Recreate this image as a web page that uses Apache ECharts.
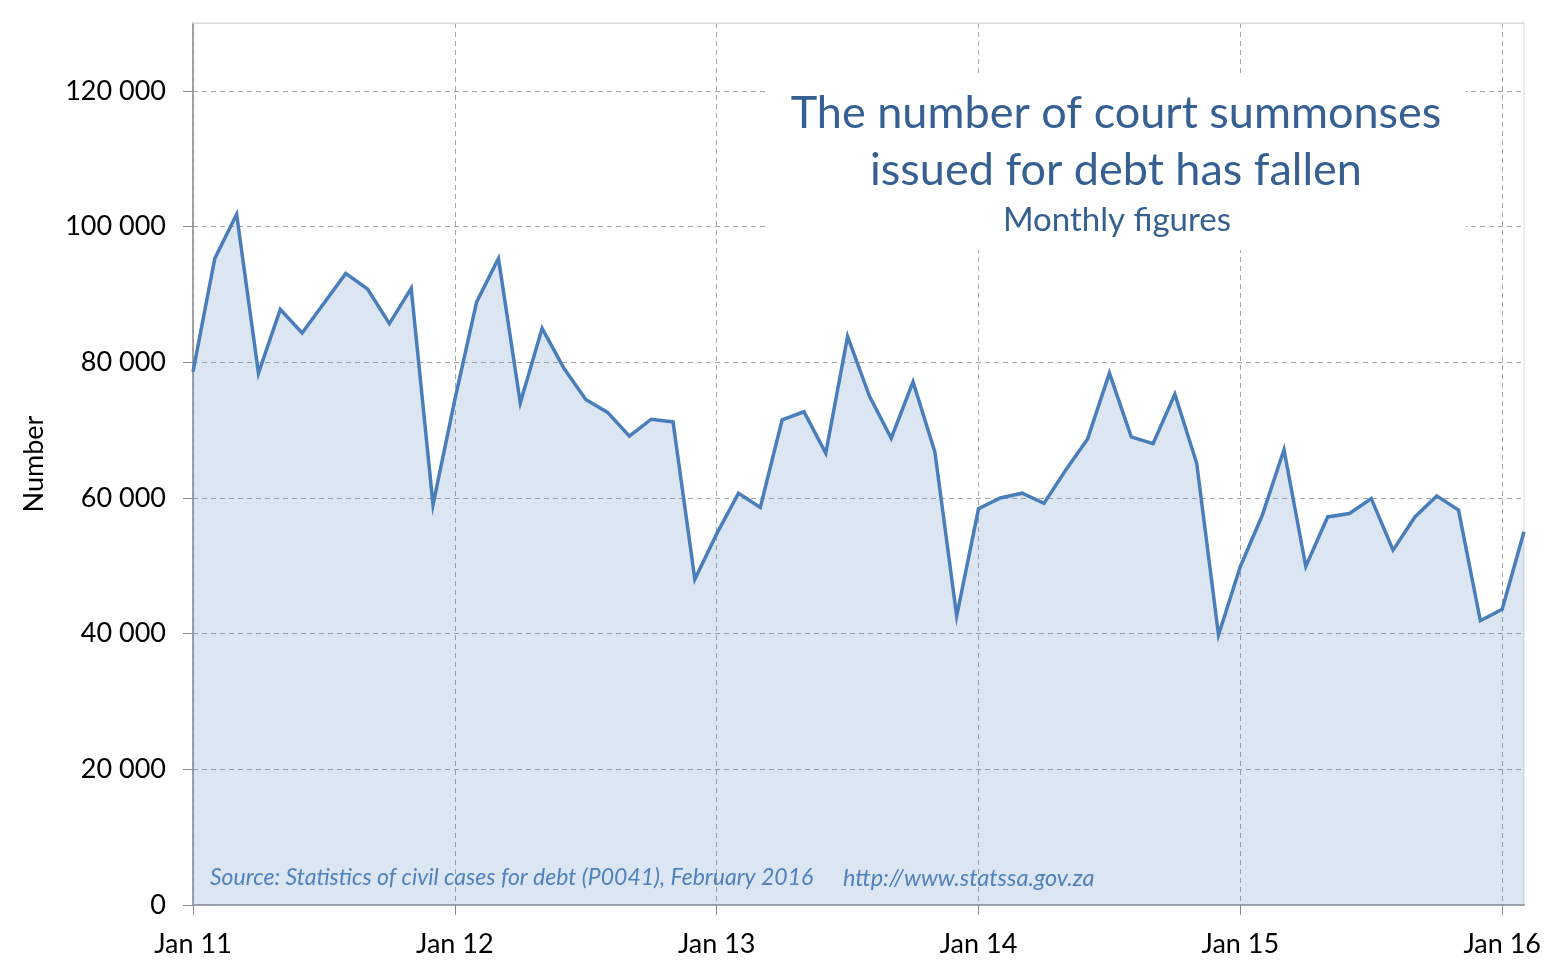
<!DOCTYPE html>
<html><head><meta charset="utf-8">
<script src="https://cdn.jsdelivr.net/npm/echarts@6/dist/echarts.min.js"></script>
<style>html,body{margin:0;padding:0;background:#fff}#c{width:1562px;height:974px}</style>
</head><body><div id="c"></div>
<script>
const months = [
 'Jan 11','Feb 11','Mar 11','Apr 11','May 11','Jun 11','Jul 11','Aug 11','Sep 11','Oct 11','Nov 11','Dec 11',
 'Jan 12','Feb 12','Mar 12','Apr 12','May 12','Jun 12','Jul 12','Aug 12','Sep 12','Oct 12','Nov 12','Dec 12',
 'Jan 13','Feb 13','Mar 13','Apr 13','May 13','Jun 13','Jul 13','Aug 13','Sep 13','Oct 13','Nov 13','Dec 13',
 'Jan 14','Feb 14','Mar 14','Apr 14','May 14','Jun 14','Jul 14','Aug 14','Sep 14','Oct 14','Nov 14','Dec 14',
 'Jan 15','Feb 15','Mar 15','Apr 15','May 15','Jun 15','Jul 15','Aug 15','Sep 15','Oct 15','Nov 15','Dec 15',
 'Jan 16','Feb 16'
];
const summonses = [
 78600, 95300, 101800, 78400, 87800, 84300, 88700, 93100, 90800, 85700, 90900, 59000,
 74500, 88900, 95300, 74000, 85000, 79100, 74500, 72600, 69100, 71600, 71200, 48000,
 54700, 60700, 58600, 71500, 72700, 66600, 83800, 75000, 68800, 77100, 66800, 42600,
 58400, 60000, 60700, 59200, 64100, 68700, 78400, 69000, 68000, 75300, 65100, 39800,
 49900, 57400, 67100, 49900, 57200, 57700, 59900, 52300, 57200, 60300, 58200, 41900,
 43600, 55000
];
const yTicks = [0, 20000, 40000, 60000, 80000, 100000, 120000];
const titleLines = ['The number of court summonses', 'issued for debt has fallen'];
const subtitle = 'Monthly figures';
const sourceText = 'Source: Statistics of civil cases for debt (P0041), February 2016';
const sourceUrl = 'http://www.statssa.gov.za';

const FONT = 'Lato';
function fmt(v){ return String(v).replace(/\B(?=(\d{3})+(?!\d))/g, ' '); }
const isJan = (i) => i % 12 === 0;

const chart = echarts.init(document.getElementById('c'), null, {renderer: 'canvas'});
chart.setOption({
  animation: false,
  backgroundColor: '#ffffff',
  textStyle: {fontFamily: FONT},
  grid: {left: 193, right: 38, top: 23, bottom: 69, show: true, borderColor: '#d9d9d9', borderWidth: 1, backgroundColor: 'transparent'},
  xAxis: [{
    type: 'category', data: months, boundaryGap: false,
    axisLine: {lineStyle: {color: '#a6a6a6', width: 2}},
    axisTick: {show: true, interval: isJan, length: 10, lineStyle: {color: '#8c8c8c', width: 1}},
    axisLabel: {interval: isJan, color: '#000', fontSize: 27, fontFamily: FONT, margin: 26},
    splitLine: {show: true, interval: isJan, lineStyle: {color: '#a6a6a6', type: [5, 4], width: 1}}
  }, {
    type: 'category', data: months, boundaryGap: false, position: 'top', z: 4,
    axisLine: {lineStyle: {color: '#d9d9d9', width: 1}},
    axisTick: {show: false}, axisLabel: {show: false}, splitLine: {show: false}
  }],
  yAxis: {
    type: 'value', min: 0, max: 130000, interval: 20000,
    name: 'Number', nameLocation: 'middle', nameGap: 145, nameRotate: 90,
    nameTextStyle: {color: '#000', fontSize: 27, fontFamily: FONT},
    axisLine: {show: true, lineStyle: {color: '#8c8c8c', width: 1.5}},
    axisTick: {show: true, length: 10, lineStyle: {color: '#8c8c8c'}},
    axisLabel: {color: '#000', fontSize: 27, fontFamily: FONT, margin: 27, showMaxLabel: false,
      formatter: (v) => yTicks.indexOf(v) >= 0 ? fmt(v) : ''},
    splitLine: {show: true, lineStyle: {color: '#a6a6a6', type: [5, 4], width: 1}}
  },
  graphic: [
    {type: 'rect', shape: {x: 768, y: 75, width: 698, height: 175}, style: {fill: '#ffffff'}, z: 5, silent: true},
    {type: 'text', x: 1116, y: 113, z: 6, style: {text: titleLines[0], fill: '#376092', font: '45px Lato', textAlign: 'center', textVerticalAlign: 'middle'}},
    {type: 'text', x: 1116, y: 170, z: 6, style: {text: titleLines[1], fill: '#376092', font: '45px Lato', textAlign: 'center', textVerticalAlign: 'middle'}},
    {type: 'text', x: 1117, y: 220, z: 6, style: {text: subtitle, fill: '#376092', font: '33px Lato', textAlign: 'center', textVerticalAlign: 'middle'}},
    {type: 'text', x: 210, y: 878, z: 6, style: {text: sourceText, fill: '#4f81bd', font: 'italic 23px Lato', textAlign: 'left', textVerticalAlign: 'middle'}},
    {type: 'text', x: 843, y: 878, z: 6, style: {text: sourceUrl, fill: '#4f81bd', font: 'italic 23.5px Lato', textAlign: 'left', textVerticalAlign: 'middle'}}
  ],
  series: [{
    type: 'line', data: summonses, xAxisIndex: 0, showSymbol: false, symbol: 'none',
    lineStyle: {color: '#4a7ebb', width: 3.5, join: 'miter'},
    areaStyle: {color: 'rgba(79,129,189,0.2)', opacity: 1},
    z: 2
  }]
});
</script>
</body></html>
